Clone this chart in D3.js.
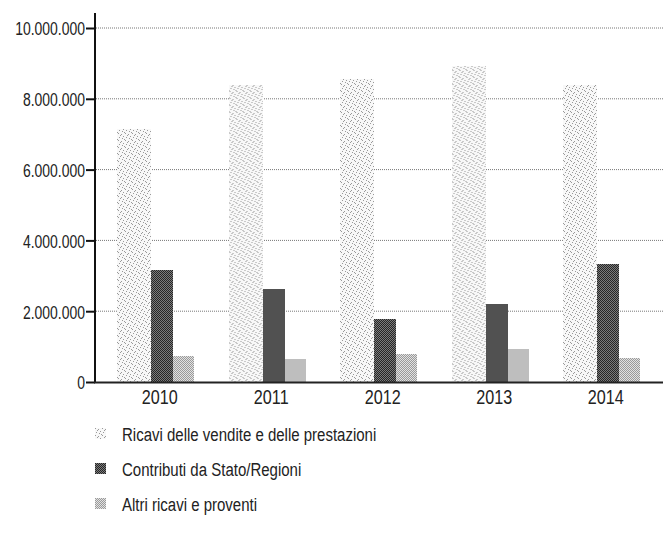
<!DOCTYPE html>
<html>
<head>
<meta charset="utf-8">
<script src="https://cdn.jsdelivr.net/npm/d3@7"></script>
<style>
  html, body { margin: 0; padding: 0; background: #fff; }
  svg { display: block; }
  text { font-family: "Liberation Sans", Arial, sans-serif; fill: #222; }
</style>
</head>
<body>
<svg id="chart" width="663" height="560"></svg>
<script>
// Revenue by source, 2010–2014 (euro)
const years = ["2010", "2011", "2012", "2013", "2014"];
const seriesNames = [
  "Ricavi delle vendite e delle prestazioni",
  "Contributi da Stato/Regioni",
  "Altri ricavi e proventi"
];
const ricavi     = [7150000, 8380000, 8560000, 8940000, 8400000];
const contributi = [3170000, 2630000, 1790000, 2210000, 3340000];
const altri      = [740000, 660000, 790000, 920000, 670000];
const yTicks = [0, 2000000, 4000000, 6000000, 8000000, 10000000];

const seriesValues = [ricavi, contributi, altri];

// Drawing setup
const svg = d3.select("#chart");
const margin = { left: 95, top: 13, right: 663 };
// condensed lettering: horizontal squeeze per label group
const squeezeY = 0.735, squeezeX = 0.77, squeezeLegend = 0.79;

const x = d3.scaleBand().domain(years).range([104, 661.5]);
const y = d3.scaleLinear().domain([0, 10000000]).range([382, 28]);

// bar widths within each year group and the group's offset inside the band
const barWidths = [34, 22, 21];
const groupOffset = 13;
const barOffsets = barWidths.map((w, i) => groupOffset + d3.sum(barWidths.slice(0, i)));

// Fill patterns: stippled, dark checker, light checker
const defs = svg.append("defs");
function checker(id, a, b) {
  const p = defs.append("pattern").attr("id", id).attr("patternUnits", "userSpaceOnUse")
    .attr("width", 2).attr("height", 2);
  p.append("rect").attr("width", 2).attr("height", 2).attr("fill", b);
  p.append("rect").attr("x", 0).attr("y", 0).attr("width", 1).attr("height", 1).attr("fill", a);
  p.append("rect").attr("x", 1).attr("y", 1).attr("width", 1).attr("height", 1).attr("fill", a);
}
checker("pat-contributi", "#262626", "#7c7c7c");
checker("pat-altri", "#9a9a9a", "#e2e2e2");
{
  const p = defs.append("pattern").attr("id", "pat-ricavi").attr("patternUnits", "userSpaceOnUse")
    .attr("width", 7).attr("height", 7);
  p.append("rect").attr("width", 7).attr("height", 7).attr("fill", "#f8f8f8");
  [[0,0],[3,1],[5,3],[1,4],[4,5],[6,6],[2,2]].forEach(([px, py]) =>
    p.append("rect").attr("x", px).attr("y", py).attr("width", 1).attr("height", 1).attr("fill", "#9a9a9a"));
}
const fills = ["url(#pat-ricavi)", "url(#pat-contributi)", "url(#pat-altri)"];

// Dotted gridlines
svg.append("g").selectAll("line")
  .data(yTicks.filter(d => d > 0))
  .join("line")
  .attr("x1", margin.left + 1).attr("x2", margin.right)
  .attr("y1", d => y(d)).attr("y2", d => y(d))
  .attr("stroke", "#777").attr("stroke-width", 1)
  .attr("stroke-dasharray", "1,1");

// Bars
const groups = svg.append("g").selectAll("g")
  .data(years)
  .join("g")
  .attr("transform", d => `translate(${x(d)},0)`);

groups.selectAll("rect")
  .data((yr, i) => seriesValues.map((vals, s) => ({ s, v: vals[i] })))
  .join("rect")
  .attr("x", d => barOffsets[d.s])
  .attr("width", d => barWidths[d.s])
  .attr("y", d => y(d.v))
  .attr("height", d => y(0) - y(d.v))
  .attr("fill", d => fills[d.s])
  .attr("shape-rendering", "crispEdges");

// Y axis
const yAxis = d3.axisLeft(y)
  .tickValues(yTicks)
  .tickSize(9)
  .tickPadding(1)
  .tickFormat(d => d3.format(",")(d).replace(/,/g, "."));

const gy = svg.append("g")
  .attr("transform", `translate(${margin.left},0)`)
  .call(yAxis);
gy.select(".domain").remove();
gy.selectAll(".tick line").attr("stroke", "#111").attr("stroke-width", 2);
gy.selectAll(".tick text")
  .attr("font-size", 19)
  .style("font-family", "'Liberation Sans', Arial, sans-serif")
  .attr("fill", "#222")
  .attr("x", -10 / squeezeY)
  .attr("dy", "0.36em")
  .attr("transform", `scale(${squeezeY},1)`);

svg.append("line")
  .attr("x1", margin.left).attr("x2", margin.left)
  .attr("y1", margin.top).attr("y2", y(0) + 1)
  .attr("stroke", "#111").attr("stroke-width", 2);

// X axis baseline and year labels
svg.append("line")
  .attr("x1", margin.left - 1).attr("x2", margin.right)
  .attr("y1", y(0) + 0.5).attr("y2", y(0) + 0.5)
  .attr("stroke", "#222").attr("stroke-width", 2);

svg.append("g").selectAll("text")
  .data(years)
  .join("text")
  .attr("transform", d => `translate(${x(d) + x.bandwidth() / 2},404) scale(${squeezeX},1)`)
  .attr("text-anchor", "middle")
  .attr("font-size", 21)
  .text(d => d);

// Legend
const legend = svg.append("g").selectAll("g")
  .data(seriesNames)
  .join("g")
  .attr("transform", (d, i) => `translate(95,${428 + i * 35})`);

legend.append("rect")
  .attr("width", 11).attr("height", 11)
  .attr("fill", (d, i) => fills[i])
  .attr("shape-rendering", "crispEdges");

legend.append("text")
  .attr("transform", `translate(27,13) scale(${squeezeLegend},1)`)
  .attr("font-size", 19)
  .text(d => d);
</script>
</body>
</html>
